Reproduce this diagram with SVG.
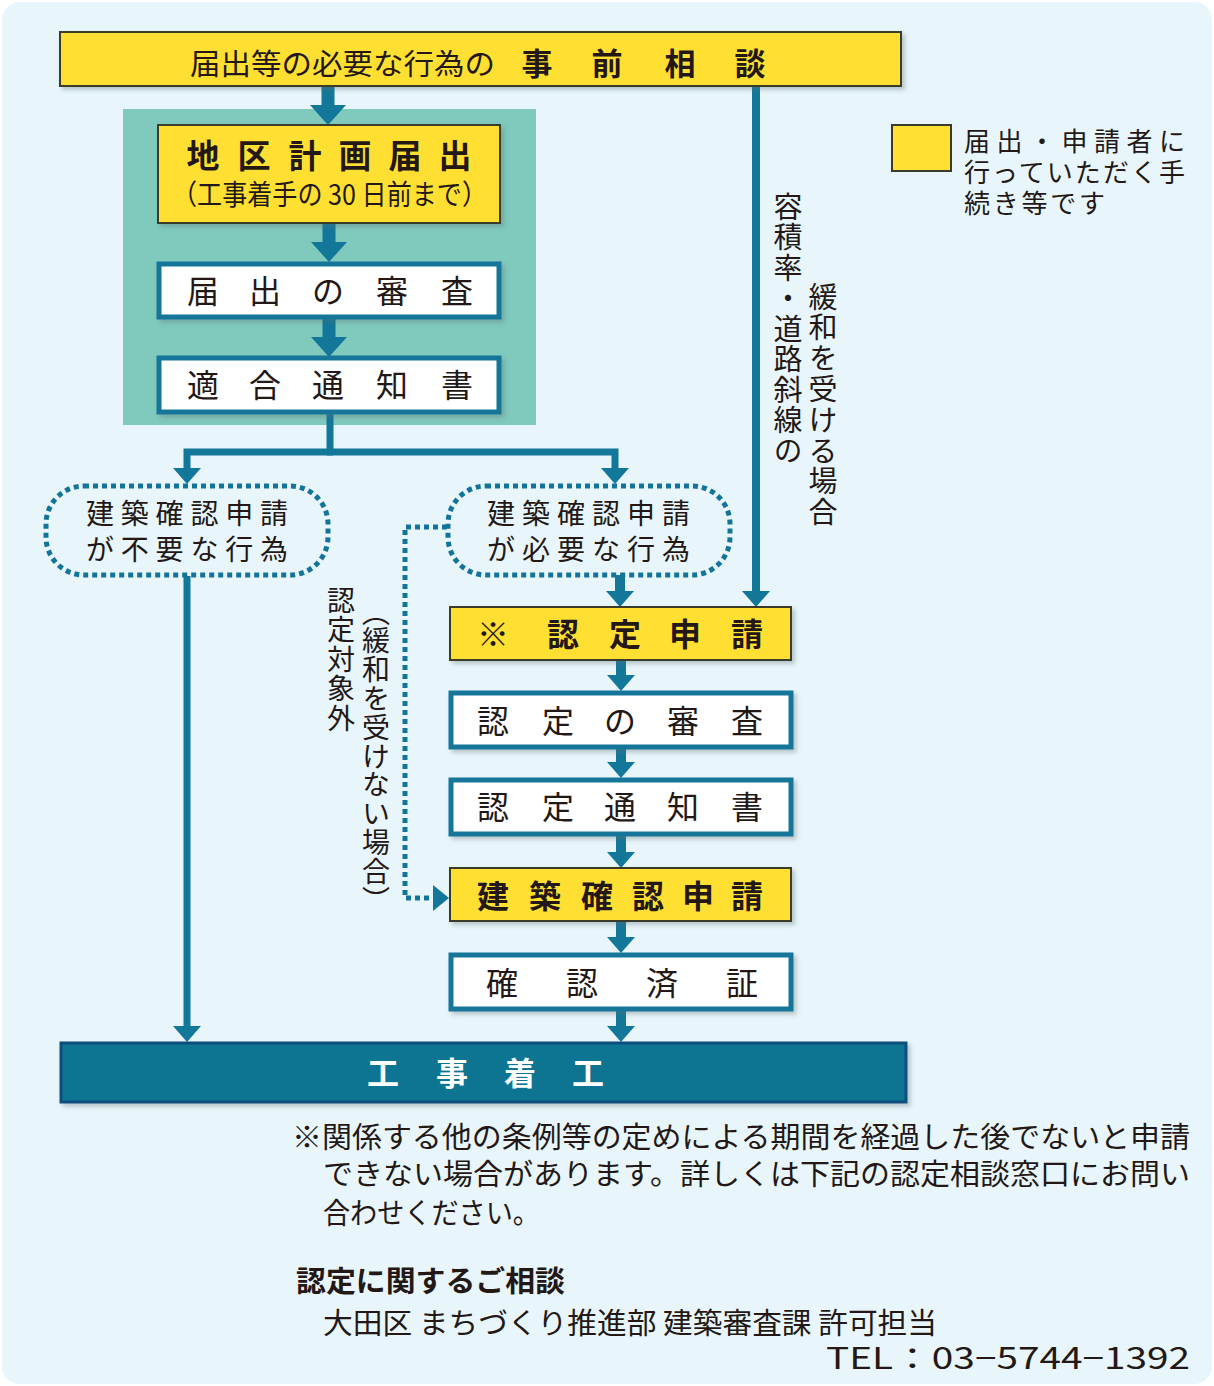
<svg xmlns="http://www.w3.org/2000/svg" width="1214" height="1386" viewBox="0 0 1214 1386">
<defs>
<style>
text{font-family:"Noto Sans CJK JP","Noto Sans CJK SC",sans-serif;fill:#231815}
.b{font-weight:700}
.c{text-anchor:middle}
.v{writing-mode:vertical-rl;text-orientation:mixed}
.yel{fill:#ffe033;stroke:#3a3a2a;stroke-width:2}
.wht{fill:#ffffff;stroke:#15769a;stroke-width:5}
.ln{fill:none;stroke:#13779a;stroke-linejoin:miter}
.dot{fill:none;stroke:#13749a;stroke-width:5;stroke-dasharray:5 4}
</style>
<marker id="ahL" viewBox="0 0 20 36" markerWidth="20" markerHeight="36" refX="0" refY="18" orient="auto" markerUnits="userSpaceOnUse"><path d="M0,0 L20,18 L0,36 z" fill="#13779a"/></marker>
<marker id="ahS" viewBox="0 0 16 28" markerWidth="16" markerHeight="28" refX="0" refY="14" orient="auto" markerUnits="userSpaceOnUse"><path d="M0,0 L16,14 L0,28 z" fill="#13779a"/></marker>
<marker id="ahD" viewBox="0 0 16 26" markerWidth="16" markerHeight="26" refX="0" refY="13" orient="auto" markerUnits="userSpaceOnUse"><path d="M0,0 L16,13 L0,26 z" fill="#13779a"/></marker>
<filter id="sh" x="-5%" y="-5%" width="115%" height="130%"><feDropShadow dx="3" dy="3" stdDeviation="2" flood-color="#5a6a70" flood-opacity="0.35"/></filter>
</defs>

<rect x="0" y="0" width="1214" height="1386" fill="#ffffff"/>
<rect x="2" y="2" width="1210" height="1382" rx="18" fill="#e8f6fb"/>

<!-- green panel -->
<rect id="panel" x="123" y="109" width="413" height="316" fill="#80c9bd"/>

<!-- connectors -->
<g id="connectors">
<path class="ln" stroke-width="13" d="M328,86 V105" marker-end="url(#ahL)"/>
<path class="ln" stroke-width="13" d="M329,223 V242" marker-end="url(#ahL)"/>
<path class="ln" stroke-width="13" d="M329,318 V337" marker-end="url(#ahL)"/>
<path class="ln" stroke-width="7" d="M330,413 V452"/>
<path class="ln" stroke-width="7" d="M333,452 H187 V468" marker-end="url(#ahS)"/>
<path class="ln" stroke-width="7" d="M327,452 H615 V468" marker-end="url(#ahS)"/>
<path class="ln" stroke-width="7" d="M187,576 V1026" marker-end="url(#ahS)"/>
<path class="ln" stroke-width="8" d="M756,86 V591" marker-end="url(#ahS)"/>
<path class="ln" stroke-width="10" d="M620,575 V591" marker-end="url(#ahS)"/>
<path class="ln" stroke-width="10" d="M621,660 V675" marker-end="url(#ahS)"/>
<path class="ln" stroke-width="10" d="M621,748 V762" marker-end="url(#ahS)"/>
<path class="ln" stroke-width="10" d="M621,835 V852" marker-end="url(#ahS)"/>
<path class="ln" stroke-width="10" d="M621,922 V937" marker-end="url(#ahS)"/>
<path class="ln" stroke-width="10" d="M621,1010 V1026" marker-end="url(#ahS)"/>
<path class="dot" d="M447,527 H405 V898 H433" marker-end="url(#ahD)"/>
<text class="v" x="341" y="586" font-size="28" letter-spacing="1.5">認定対象外</text>
<text class="v" x="376" y="598" font-size="28" letter-spacing="0.8">（緩和を受けない場合）</text>
<text class="v" x="788" y="192" font-size="29" letter-spacing="1.5">容積率・道路斜線の</text>
<text class="v" x="823" y="282" font-size="29" letter-spacing="1.8">緩和を受ける場合</text>
</g>

<!-- top bar -->
<g id="n-jizen">
<rect class="yel" x="60" y="32" width="841" height="54" filter="url(#sh)"/>
<text x="190" y="75" font-size="29" textLength="305" lengthAdjust="spacingAndGlyphs">届出等の必要な行為の</text>
<text class="b c" x="537 607 680 750" y="75" font-size="31">事前相談</text>
</g>

<g id="n-chiku">
<rect class="yel" x="158" y="125" width="342" height="98" filter="url(#sh)"/>
<text class="b c" x="203 254 305 355 405 455" y="168" font-size="33">地区計画届出</text>
<text x="172" y="205" font-size="28" textLength="315" lengthAdjust="spacingAndGlyphs">（工事着手の 30 日前まで）</text>
</g>

<g id="n-todokede-shinsa">
<rect class="wht" x="159" y="264" width="340" height="53" filter="url(#sh)"/>
<text class="c" x="203 265 328 392 457" y="303" font-size="32">届出の審査</text>
</g>

<g id="n-tekigo">
<rect class="wht" x="159" y="358" width="340" height="54" filter="url(#sh)"/>
<text class="c" x="203 265 328 392 457" y="397" font-size="32">適合通知書</text>
</g>

<g id="n-fuyo">
<rect class="dot" x="46" y="486" width="282" height="89" rx="38"/>
<text x="86" y="524" font-size="28" textLength="202" lengthAdjust="spacing">建築確認申請</text>
<text x="86" y="560" font-size="28" textLength="202" lengthAdjust="spacing">が不要な行為</text>
</g>

<g id="n-hitsuyo">
<rect class="dot" x="448" y="486" width="282" height="89" rx="38"/>
<text x="487" y="524" font-size="28" textLength="203" lengthAdjust="spacing">建築確認申請</text>
<text x="487" y="560" font-size="28" textLength="203" lengthAdjust="spacing">が必要な行為</text>
</g>

<g id="n-nintei-shinsei">
<rect class="yel" x="450" y="607" width="341" height="53" filter="url(#sh)"/>
<text class="b c" x="493 563 625 685 747" y="646" font-size="32">※認定申請</text>
</g>

<g id="n-nintei-shinsa">
<rect class="wht" x="451" y="693" width="340" height="54" filter="url(#sh)"/>
<text class="c" x="493 558 620 683 747" y="733" font-size="32">認定の審査</text>
</g>

<g id="n-nintei-tsuchi">
<rect class="wht" x="451" y="780" width="340" height="54" filter="url(#sh)"/>
<text class="c" x="493 558 620 683 747" y="819" font-size="32">認定通知書</text>
</g>

<g id="n-kakunin-shinsei">
<rect class="yel" x="450" y="868" width="341" height="53" filter="url(#sh)"/>
<text class="b c" x="493 545 597 648 698 747" y="908" font-size="32">建築確認申請</text>
</g>

<g id="n-kakuninzumi">
<rect class="wht" x="451" y="955" width="340" height="54" filter="url(#sh)"/>
<text class="c" x="502 582 662 742" y="995" font-size="32">確認済証</text>
</g>

<g id="n-chakko">
<rect x="61" y="1043" width="845" height="59" fill="#0e7592" stroke="#0a4f7c" stroke-width="3" filter="url(#sh)"/>
<text class="b c" x="383 452 520 588" y="1085" font-size="32" style="fill:#ffffff">工事着工</text>
</g>

<!-- legend -->
<g id="legend">
<rect x="892" y="125" width="59" height="46" fill="#ffe033" stroke="#3a3a2a" stroke-width="2"/>
<text x="964" y="151" font-size="26" textLength="221" lengthAdjust="spacing">届出・申請者に</text>
<text x="964" y="182" font-size="26" textLength="221" lengthAdjust="spacing">行っていただく手</text>
<text x="964" y="213" font-size="26" textLength="141" lengthAdjust="spacing">続き等です</text>
</g>

<!-- notes -->
<g id="notes">
<text x="292" y="1148" font-size="29" textLength="898" lengthAdjust="spacingAndGlyphs">※関係する他の条例等の定めによる期間を経過した後でないと申請</text>
<text x="323" y="1185" font-size="29" textLength="867" lengthAdjust="spacingAndGlyphs">できない場合があります。詳しくは下記の認定相談窓口にお問い</text>
<text x="323" y="1224" font-size="29" textLength="217" lengthAdjust="spacingAndGlyphs">合わせください。</text>
<text class="b" x="296" y="1292" font-size="29" textLength="269" lengthAdjust="spacingAndGlyphs">認定に関するご相談</text>
<text x="323" y="1334" font-size="29" textLength="614" lengthAdjust="spacingAndGlyphs">大田区 まちづくり推進部 建築審査課 許可担当</text>
<text x="826" y="1369" font-size="30" textLength="364" lengthAdjust="spacingAndGlyphs">TEL：03−5744−1392</text>
</g>
</svg>
